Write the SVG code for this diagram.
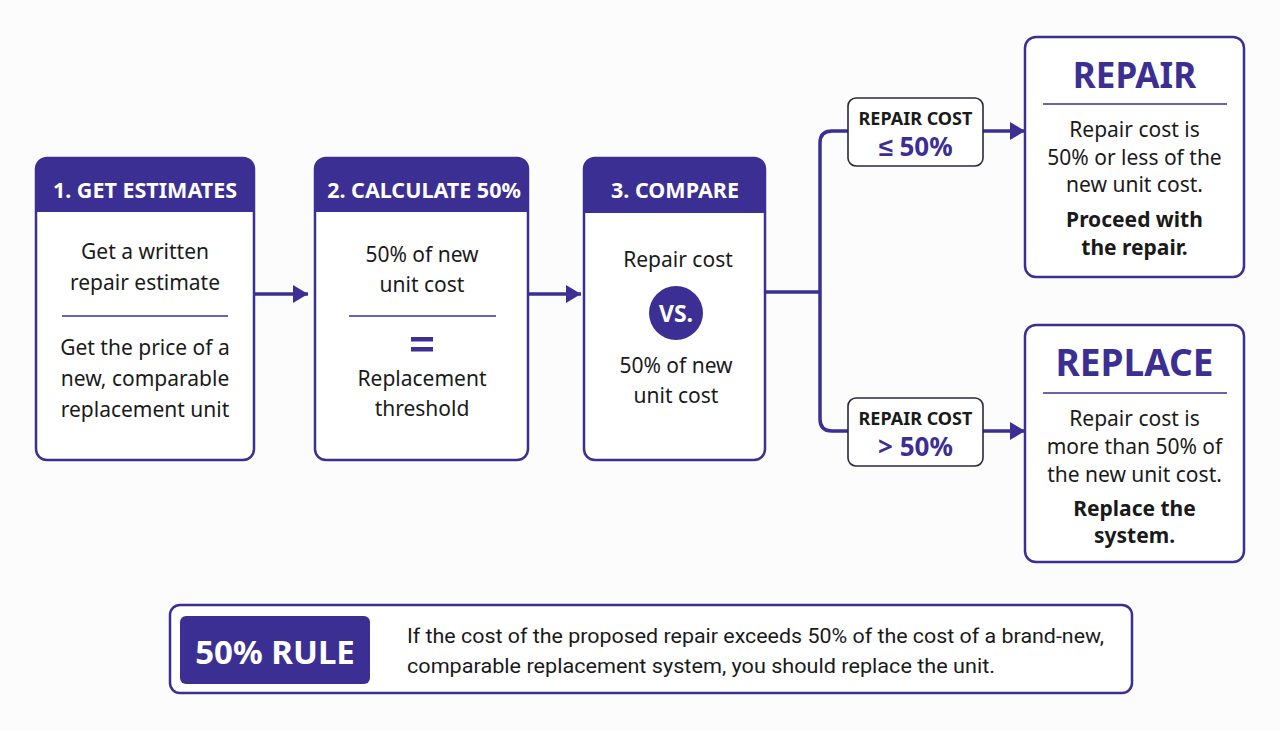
<svg xmlns="http://www.w3.org/2000/svg" width="1280" height="731" viewBox="0 0 1280 731">
<style>
.box{fill:#fff;stroke:#3b2f93;stroke-width:2.5}
.hdr{fill:#3b2f93}
.ht{font-family:"Noto Sans",sans-serif;font-weight:700;font-size:21.5px;fill:#fff;text-anchor:middle;dominant-baseline:central}
.t{font-family:"Noto Sans",sans-serif;font-size:21px;fill:#1a1a1a;text-anchor:middle;dominant-baseline:central}
.tb{font-family:"Noto Sans",sans-serif;font-weight:700;font-size:21px;fill:#1a1a1a;text-anchor:middle;dominant-baseline:central}
.div{stroke:#3b2f93;stroke-width:1.6}
.con{fill:none;stroke:#3b2f93;stroke-width:3.5}
.lb{fill:#fff;stroke:#2a2a3a;stroke-width:1.6}
.lt{font-family:"Noto Sans",sans-serif;font-weight:700;font-size:18px;fill:#1a1a1a;text-anchor:middle;dominant-baseline:central}
.lv{font-family:"Noto Sans",sans-serif;font-weight:700;font-size:26px;fill:#3b2f93;text-anchor:middle;dominant-baseline:central}
.big{font-family:"Noto Sans",sans-serif;font-weight:700;font-size:35px;fill:#3b2f93;text-anchor:middle;dominant-baseline:central}
.rt{font-family:"Roboto",sans-serif;font-size:20px;fill:#1a1a1a;dominant-baseline:central}
</style>
<defs>
<marker id="ah" viewBox="0 0 15 18" refX="15" refY="9" markerWidth="15" markerHeight="18" markerUnits="userSpaceOnUse" orient="auto">
<path d="M0,0 L15,9 L0,18 Z" fill="#3b2f93"/>
</marker>
</defs>
<rect width="1280" height="731" fill="#fcfcfd"/>

<g id="connectors">
<line class="con" x1="254" y1="294" x2="308" y2="294" marker-end="url(#ah)"/>
<line class="con" x1="528" y1="294" x2="581" y2="294" marker-end="url(#ah)"/>
<path class="con" d="M765,292 H820"/>
<path class="con" d="M848,131 H832 Q820,131 820,143 V419 Q820,431 832,431 H848"/>
<line class="con" x1="983" y1="131" x2="1025" y2="131" marker-end="url(#ah)"/>
<line class="con" x1="983" y1="431" x2="1025" y2="431" marker-end="url(#ah)"/>
</g>

<g id="step1">
<rect class="box" x="36" y="158" width="218" height="302" rx="11"/>
<path class="hdr" d="M36,169 Q36,158 47,158 H243 Q254,158 254,169 V212 H36 Z"/>
<text class="ht" x="145" y="189">1. GET ESTIMATES</text>
<text class="t" x="145" y="251">Get a written</text>
<text class="t" x="145" y="282">repair estimate</text>
<line class="div" x1="62" y1="316" x2="228" y2="316"/>
<text class="t" x="145" y="347">Get the price of a</text>
<text class="t" x="145" y="378">new, comparable</text>
<text class="t" x="145" y="409">replacement unit</text>
</g>

<g id="step2">
<rect class="box" x="315" y="158" width="213" height="302" rx="11"/>
<path class="hdr" d="M315,169 Q315,158 326,158 H517 Q528,158 528,169 V212 H315 Z"/>
<text class="ht" x="424" y="189">2. CALCULATE 50%</text>
<text class="t" x="422" y="254">50% of new</text>
<text class="t" x="422" y="284">unit cost</text>
<line class="div" x1="349" y1="316" x2="496" y2="316"/>
<rect x="411" y="337" width="22" height="4.5" fill="#3b2f93"/>
<rect x="411" y="347" width="22" height="4.5" fill="#3b2f93"/>
<text class="t" x="422" y="378">Replacement</text>
<text class="t" x="422" y="408">threshold</text>
</g>

<g id="step3">
<rect class="box" x="584" y="158" width="181" height="302" rx="11"/>
<path class="hdr" d="M584,169 Q584,158 595,158 H754 Q765,158 765,169 V213 H584 Z"/>
<text class="ht" x="675" y="189">3. COMPARE</text>
<text class="t" x="678" y="259">Repair cost</text>
<circle cx="676" cy="313" r="27" fill="#3b2f93"/>
<text class="ht" x="676" y="313" style="font-size:23px">VS.</text>
<text class="t" x="676" y="365">50% of new</text>
<text class="t" x="676" y="395">unit cost</text>
</g>

<g id="cond-le">
<rect class="lb" x="848" y="98" width="135" height="68" rx="8"/>
<text class="lt" x="915.5" y="118">REPAIR COST</text>
<text class="lv" x="915.5" y="146">≤ 50%</text>
</g>

<g id="cond-gt">
<rect class="lb" x="848" y="398" width="135" height="68" rx="8"/>
<text class="lt" x="915.5" y="418">REPAIR COST</text>
<text class="lv" x="915.5" y="446">&gt; 50%</text>
</g>

<g id="repair">
<rect class="box" x="1025" y="37" width="219" height="240" rx="11"/>
<text class="big" x="1134.5" y="74">REPAIR</text>
<line class="div" x1="1043" y1="104" x2="1227" y2="104"/>
<text class="t" x="1134.5" y="129">Repair cost is</text>
<text class="t" x="1134.5" y="157">50% or less of the</text>
<text class="t" x="1134.5" y="184">new unit cost.</text>
<text class="tb" x="1134.5" y="219">Proceed with</text>
<text class="tb" x="1134.5" y="247">the repair.</text>
</g>

<g id="replace">
<rect class="box" x="1025" y="325" width="219" height="237" rx="11"/>
<text class="big" x="1134.5" y="361" style="font-size:37px">REPLACE</text>
<line class="div" x1="1043" y1="393" x2="1227" y2="393"/>
<text class="t" x="1134.5" y="418">Repair cost is</text>
<text class="t" x="1134.5" y="446">more than 50% of</text>
<text class="t" x="1134.5" y="474">the new unit cost.</text>
<text class="tb" x="1134.5" y="508">Replace the</text>
<text class="tb" x="1134.5" y="535">system.</text>
</g>

<g id="rule">
<rect class="box" x="170" y="605" width="962" height="88" rx="10"/>
<rect x="180" y="616" width="190" height="68" rx="6" fill="#3b2f93"/>
<text class="ht" x="275" y="651" style="font-size:33px">50% RULE</text>
<text class="rt" x="407" y="636" textLength="697" lengthAdjust="spacingAndGlyphs">If the cost of the proposed repair exceeds 50% of the cost of a brand-new,</text>
<text class="rt" x="407" y="666" textLength="588" lengthAdjust="spacingAndGlyphs">comparable replacement system, you should replace the unit.</text>
</g>
</svg>
